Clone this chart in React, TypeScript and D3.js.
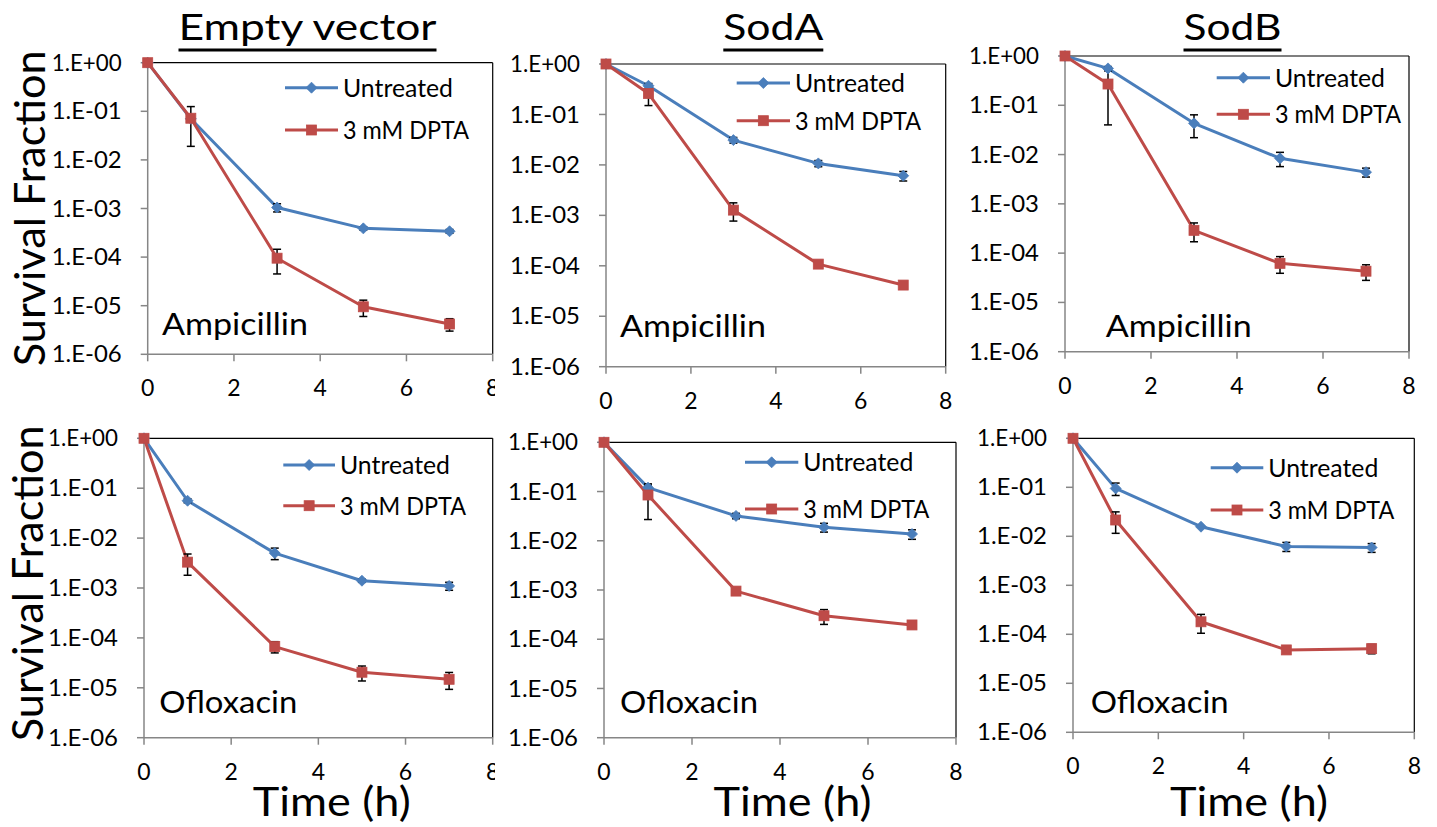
import React from "react";
import * as d3 from "d3";

const times = [0, 1, 3, 5, 7];
const xTicks = [0, 2, 4, 6, 8];
const yTicks = [1, 1e-1, 1e-2, 1e-3, 1e-4, 1e-5, 1e-6];
const yTickLabels = ["1.E+00", "1.E-01", "1.E-02", "1.E-03", "1.E-04", "1.E-05", "1.E-06"];
const seriesNames = ["Untreated", "3 mM DPTA"];
const strains = ["Empty vector", "SodA", "SodB"];
const drugs = ["Ampicillin", "Ofloxacin"];

// Ampicillin
const ampEmptyUntreated = [1, 0.07, 0.00105, 0.00039, 0.00034];
const ampEmptyUntreatedErr = [0, 0, 0.0002, 0.00003, 0.00003];
const ampEmptyDpta = [1, 0.072, 9.5e-5, 9.5e-6, 4.2e-6];
const ampEmptyDptaErr = [0, 0.053, 5e-5, 3.5e-6, 1.2e-6];

const ampSodAUntreated = [1, 0.37, 0.031, 0.0107, 0.0061];
const ampSodAUntreatedErr = [0, 0.04, 0.004, 0.0015, 0.0013];
const ampSodADpta = [1, 0.26, 0.00127, 1.08e-4, 4.15e-5];
const ampSodADptaErr = [0, 0.11, 0.0005, 1e-5, 3e-6];

const ampSodBUntreated = [1, 0.56, 0.043, 0.0084, 0.0044];
const ampSodBUntreatedErr = [0, 0.05, 0.021, 0.0027, 0.0009];
const ampSodBDpta = [1, 0.27, 2.9e-4, 6.2e-5, 4.3e-5];
const ampSodBDptaErr = [0, 0.23, 1.2e-4, 2.3e-5, 1.5e-5];

// Ofloxacin
const oflEmptyUntreated = [1, 0.056, 0.005, 0.0014, 0.0011];
const oflEmptyUntreatedErr = [0, 0.005, 0.0013, 0.0001, 0.0002];
const oflEmptyDpta = [1, 0.0033, 6.7e-5, 2.05e-5, 1.48e-5];
const oflEmptyDptaErr = [0, 0.0015, 1.7e-5, 6.8e-6, 5.5e-6];

const oflSodAUntreated = [1, 0.12, 0.032, 0.0188, 0.0137];
const oflSodAUntreatedErr = [0, 0.015, 0.004, 0.0038, 0.003];
const oflSodADpta = [1, 0.085, 9.5e-4, 3.0e-4, 1.95e-4];
const oflSodADptaErr = [0, 0.058, 0, 1.0e-4, 1e-5];

const oflSodBUntreated = [1, 0.095, 0.0157, 0.0062, 0.0059];
const oflSodBUntreatedErr = [0, 0.027, 0, 0.0013, 0.0012];
const oflSodBDpta = [1, 0.0215, 1.8e-4, 4.8e-5, 5.1e-5];
const oflSodBDptaErr = [0, 0.01, 7.5e-5, 6e-6, 1.1e-5];

const panelsData = [
  { u: ampEmptyUntreated, ue: ampEmptyUntreatedErr, d: ampEmptyDpta, de: ampEmptyDptaErr },
  { u: ampSodAUntreated, ue: ampSodAUntreatedErr, d: ampSodADpta, de: ampSodADptaErr },
  { u: ampSodBUntreated, ue: ampSodBUntreatedErr, d: ampSodBDpta, de: ampSodBDptaErr },
  { u: oflEmptyUntreated, ue: oflEmptyUntreatedErr, d: oflEmptyDpta, de: oflEmptyDptaErr },
  { u: oflSodAUntreated, ue: oflSodAUntreatedErr, d: oflSodADpta, de: oflSodADptaErr },
  { u: oflSodBUntreated, ue: oflSodBUntreatedErr, d: oflSodBDpta, de: oflSodBDptaErr },
];

const layout = [
  { l: 147.7, r: 492.7, t: 62.7, b: 354.3, legL: 285, legR: 338, legY1: 87.7, legY2: 130, drugX: 162, drugY: 335, clip: 495 },
  { l: 606, r: 945.7, t: 64, b: 366.7, legL: 736.7, legR: 790, legY1: 83, legY2: 120.7, drugX: 620, drugY: 337, clip: 0 },
  { l: 1065, r: 1409, t: 56, b: 351.7, legL: 1216.7, legR: 1270, legY1: 77.7, legY2: 114.3, drugX: 1105.7, drugY: 336.7, clip: 0 },
  { l: 144, r: 492.7, t: 438.3, b: 737.7, legL: 283.3, legR: 335, legY1: 465, legY2: 505.7, drugX: 159.3, drugY: 713.3, clip: 495 },
  { l: 604, r: 956, t: 442.3, b: 737.7, legL: 745, legR: 798.3, legY1: 462.3, legY2: 509, drugX: 620, drugY: 713.3, clip: 0 },
  { l: 1073, r: 1414.3, t: 438.3, b: 732.3, legL: 1210.7, legR: 1263.3, legY1: 467.7, legY2: 510, drugX: 1090.7, drugY: 713.3, clip: 0 },
];
const titleX = [307.5, 773.3, 1232.5];
const titleW = [258, 100, 98];
const timeX = [331.7, 792.5, 1249];
const drugW = [146, 138];
const ylabCY = [208.3, 583.3];
const ylabX = [45, 43.3];

const BLUE = "#4A7EBB";
const RED = "#BE4B48";
const AXIS = "#868686";
const FONT = "Lato, 'Open Sans', sans-serif";

function Diamond({ x, y, s = 5.5 }: { x: number; y: number; s?: number }) {
  return <path d={`M${x},${y - s}L${x + s},${y}L${x},${y + s}L${x - s},${y}Z`} fill={BLUE} stroke={BLUE} strokeWidth={0.8} />;
}
function Square({ x, y, s = 5 }: { x: number; y: number; s?: number }) {
  return <rect x={x - s} y={y - s} width={2 * s} height={2 * s} fill={RED} stroke={RED} strokeWidth={0.8} />;
}

function Panel({ idx }: { idx: number }) {
  const L = layout[idx];
  const D = panelsData[idx];
  const x = d3.scaleLinear().domain([0, 8]).range([L.l, L.r]);
  const y = d3.scaleLog().domain([1e-6, 1]).range([L.b, L.t]);
  const line = d3
    .line<[number, number]>()
    .x((p) => x(p[0]))
    .y((p) => y(p[1]));
  const row = Math.floor(idx / 3);
  const col = idx % 3;
  const series = [
    { vals: D.u, err: D.ue, color: BLUE, kind: "d" },
    { vals: D.d, err: D.de, color: RED, kind: "s" },
  ];
  const content = (
    <g>
      <line x1={L.l} x2={L.r} y1={L.t} y2={L.t} stroke="#000" strokeWidth={1.2} />
      <line x1={L.r} x2={L.r} y1={L.t} y2={L.b} stroke="#000" strokeWidth={1.2} />
      <line x1={L.l} x2={L.l} y1={L.t} y2={L.b} stroke={AXIS} strokeWidth={1.5} />
      {yTicks.map((v, i) => (
        <g key={i}>
          <line x1={L.l - 7} x2={L.l} y1={y(v)} y2={y(v)} stroke={AXIS} strokeWidth={1.5} />
          <text x={L.l - 26} y={y(v)} dy="0.35em" textAnchor="end" fontSize={23} fontFamily={FONT} fill="#000" textLength={70} lengthAdjust="spacingAndGlyphs">
            {yTickLabels[i]}
          </text>
        </g>
      ))}
      <line x1={L.l} x2={L.r} y1={L.b} y2={L.b} stroke={AXIS} strokeWidth={1.5} />
      {xTicks.map((v, i) => (
        <g key={i}>
          <line x1={x(v)} x2={x(v)} y1={L.b} y2={L.b + 7} stroke={AXIS} strokeWidth={1.5} />
          <text x={x(v)} y={L.b + 34} dy="0.35em" textAnchor="middle" fontSize={23} fontFamily={FONT} fill="#000">
            {v}
          </text>
        </g>
      ))}
      {series.map((s, si) => (
        <path
          key={"l" + si}
          d={line(times.map((t, i) => [t, s.vals[i]]) as [number, number][]) || ""}
          fill="none"
          stroke={s.color}
          strokeWidth={3}
          strokeLinejoin="round"
        />
      ))}
      {series.map((s, si) =>
        times.map((t, i) => {
          const e = s.err[i];
          if (!e) return null;
          const hi = y(s.vals[i] + e);
          const lo = y(Math.max(s.vals[i] - e, 1e-6));
          const cx = x(t);
          return (
            <g key={"e" + si + "-" + i} stroke="#000" strokeWidth={1.5}>
              <line x1={cx} x2={cx} y1={hi} y2={lo} />
              <line x1={cx - 4} x2={cx + 4} y1={hi} y2={hi} />
              <line x1={cx - 4} x2={cx + 4} y1={lo} y2={lo} />
            </g>
          );
        })
      )}
      {series.map((s, si) =>
        times.map((t, i) =>
          s.kind === "d" ? (
            <Diamond key={"m" + si + i} x={x(t)} y={y(s.vals[i])} />
          ) : (
            <Square key={"m" + si + i} x={x(t)} y={y(s.vals[i])} />
          )
        )
      )}
      <line x1={L.legL} x2={L.legR} y1={L.legY1} y2={L.legY1} stroke={BLUE} strokeWidth={3} />
      <Diamond x={(L.legL + L.legR) / 2} y={L.legY1} />
      <text x={L.legR + 5} y={L.legY1} dy="0.36em" fontSize={25} fontFamily={FONT} fill="#000" textLength={110} lengthAdjust="spacingAndGlyphs">
        {seriesNames[0]}
      </text>
      <line x1={L.legL} x2={L.legR} y1={L.legY2} y2={L.legY2} stroke={RED} strokeWidth={3} />
      <Square x={(L.legL + L.legR) / 2} y={L.legY2} />
      <text x={L.legR + 5} y={L.legY2} dy="0.36em" fontSize={25} fontFamily={FONT} fill="#000" textLength={126} lengthAdjust="spacingAndGlyphs">
        {seriesNames[1]}
      </text>
      <text x={L.drugX} y={L.drugY} fontSize={31} fontFamily={FONT} fill="#000" textLength={drugW[row]} lengthAdjust="spacingAndGlyphs">
        {drugs[row]}
      </text>
    </g>
  );
  return (
    <g>
      {L.clip ? (
        <>
          <defs>
            <clipPath id={"clip" + idx}>
              <rect x={0} y={0} width={L.clip} height={827} />
            </clipPath>
          </defs>
          <g clipPath={`url(#clip${idx})`}>{content}</g>
        </>
      ) : (
        content
      )}
      {row === 0 && (
        <g>
          <text x={titleX[col]} y={40} textAnchor="middle" fontSize={37} fontFamily={FONT} fill="#000" textLength={titleW[col]} lengthAdjust="spacingAndGlyphs">
            {strains[col]}
          </text>
          <line x1={titleX[col] - titleW[col] / 2} x2={titleX[col] + titleW[col] / 2} y1={50} y2={50} stroke="#000" strokeWidth={3} />
        </g>
      )}
      {row === 1 && (
        <text x={timeX[col]} y={816} textAnchor="middle" fontSize={40} fontFamily={FONT} fill="#000" textLength={158} lengthAdjust="spacingAndGlyphs">
          Time (h)
        </text>
      )}
      {col === 0 && (
        <text
          transform={`translate(${ylabX[row]},${ylabCY[row]}) rotate(-90)`}
          textAnchor="middle"
          fontSize={42}
          fontFamily={FONT}
          fill="#000"
          textLength={316}
          lengthAdjust="spacingAndGlyphs"
        >
          Survival Fraction
        </text>
      )}
    </g>
  );
}

export default function App() {
  return (
    <svg width={1437} height={827} style={{ position: "absolute", left: 0, top: 0, background: "#fff" }}>
      <rect width={1437} height={827} fill="#fff" />
      {[0, 1, 2, 3, 4, 5].map((i) => (
        <Panel key={i} idx={i} />
      ))}
    </svg>
  );
}
